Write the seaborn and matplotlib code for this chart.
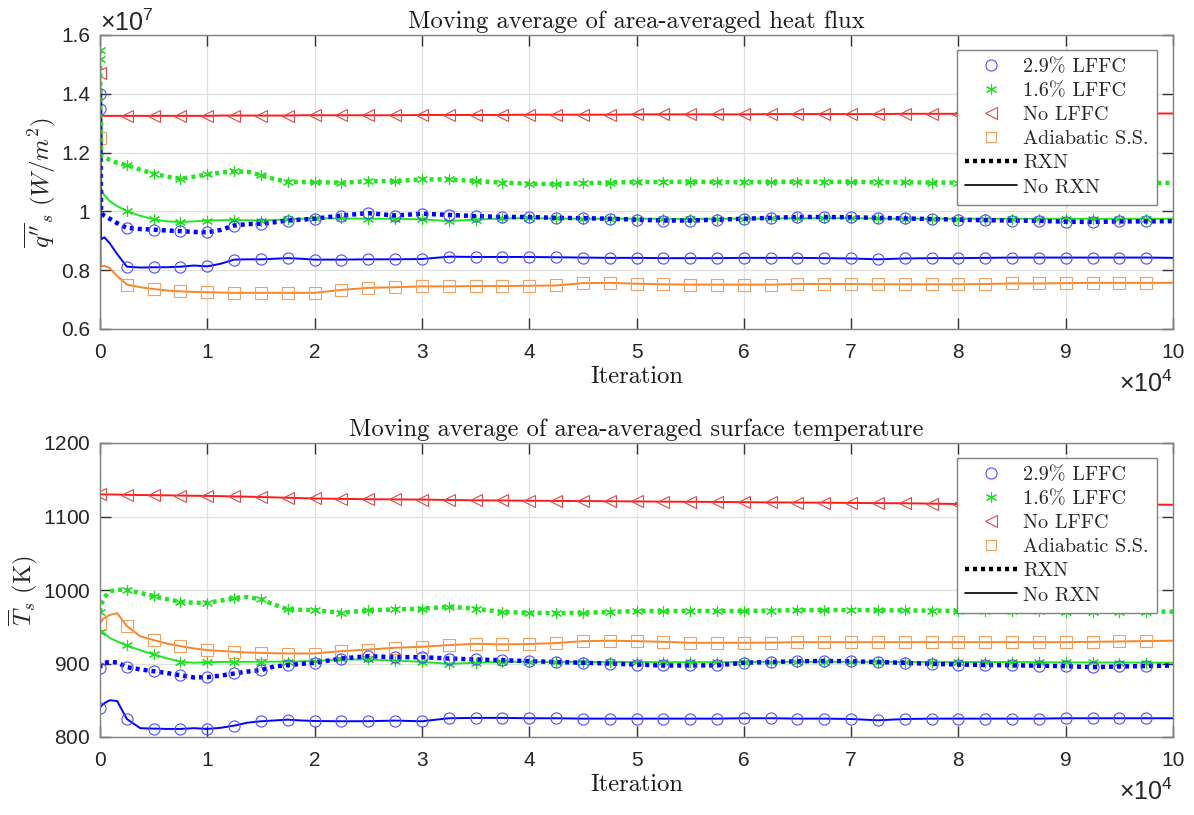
import matplotlib
matplotlib.use("Agg")
import matplotlib.pyplot as plt
import seaborn as sns
import pandas as pd
from matplotlib.lines import Line2D
from matplotlib.ticker import ScalarFormatter

# ---------------- data ----------------
ITER = [0, 100, 400, 900, 1600, 2500, 3750, 5000, 6250, 7500, 8750, 10000, 11250,
        12500, 13750, 15000, 16250, 17500, 18750, 20000, 22500, 25000, 27500, 30000,
        32500, 35000, 37500, 40000, 42500, 45000, 47500, 50000, 52500, 55000, 57500,
        60000, 62500, 65000, 67500, 70000, 72500, 75000, 77500, 80000, 82500, 85000,
        87500, 90000, 92500, 95000, 97500, 100000]

# heat flux, in units of 1e7 W/m^2
Q_B29_RXN = [1.40, 0.995, 0.985, 0.975, 0.960, 0.944, 0.940, 0.938, 0.935, 0.933, 0.930, 0.929, 0.937,
             0.952, 0.957, 0.958, 0.963, 0.969, 0.972, 0.975, 0.986, 0.994, 0.986, 0.992,
             0.988, 0.984, 0.981, 0.981, 0.978, 0.977, 0.975, 0.972, 0.969, 0.969, 0.972,
             0.975, 0.978, 0.981, 0.981, 0.980, 0.978, 0.976, 0.974, 0.972, 0.970, 0.969,
             0.968, 0.965, 0.964, 0.966, 0.966, 0.967]
Q_B29_NORXN = [1.35, 0.905, 0.912, 0.892, 0.855, 0.812, 0.809, 0.810, 0.810, 0.812, 0.816, 0.813, 0.822,
               0.836, 0.837, 0.837, 0.839, 0.841, 0.839, 0.836, 0.836, 0.837, 0.837, 0.838,
               0.846, 0.845, 0.845, 0.845, 0.844, 0.843, 0.842, 0.842, 0.841, 0.841, 0.841,
               0.842, 0.842, 0.842, 0.841, 0.840, 0.837, 0.840, 0.841, 0.841, 0.842, 0.843,
               0.843, 0.843, 0.843, 0.843, 0.843, 0.842]
Q_G16_RXN = [1.55, 1.19, 1.185, 1.175, 1.165, 1.157, 1.142, 1.128, 1.118, 1.111, 1.118, 1.126, 1.132,
             1.136, 1.135, 1.123, 1.110, 1.101, 1.100, 1.100, 1.097, 1.103, 1.103, 1.109,
             1.109, 1.103, 1.098, 1.094, 1.093, 1.096, 1.098, 1.100, 1.100, 1.101, 1.100,
             1.099, 1.100, 1.101, 1.100, 1.101, 1.099, 1.099, 1.098, 1.098, 1.099, 1.098,
             1.098, 1.097, 1.097, 1.097, 1.097, 1.097]
Q_G16_NORXN = [1.52, 1.075, 1.055, 1.035, 1.018, 1.001, 0.985, 0.973, 0.966, 0.964, 0.966, 0.969, 0.970,
               0.971, 0.970, 0.969, 0.971, 0.973, 0.975, 0.977, 0.976, 0.975, 0.975, 0.973,
               0.967, 0.972, 0.976, 0.977, 0.976, 0.975, 0.975, 0.975, 0.975, 0.974, 0.975,
               0.975, 0.976, 0.977, 0.977, 0.977, 0.976, 0.975, 0.975, 0.975, 0.975, 0.975,
               0.975, 0.975, 0.975, 0.975, 0.975, 0.975]
Q_NOLFFC = [1.47, 1.326, 1.325, 1.325, 1.325, 1.325, 1.325, 1.325, 1.325, 1.325, 1.325, 1.325, 1.326,
            1.326, 1.326, 1.326, 1.326, 1.326, 1.327, 1.327, 1.327, 1.327, 1.327, 1.328,
            1.328, 1.328, 1.328, 1.329, 1.329, 1.329, 1.329, 1.330, 1.330, 1.330, 1.330,
            1.330, 1.331, 1.331, 1.331, 1.331, 1.331, 1.332, 1.332, 1.332, 1.332, 1.332,
            1.333, 1.333, 1.333, 1.333, 1.333, 1.333]
Q_ADIAB = [1.25, 0.812, 0.815, 0.808, 0.780, 0.751, 0.742, 0.736, 0.731, 0.728, 0.726, 0.725, 0.724,
           0.723, 0.723, 0.723, 0.723, 0.723, 0.723, 0.723, 0.733, 0.740, 0.742, 0.745,
           0.745, 0.746, 0.746, 0.747, 0.748, 0.756, 0.757, 0.754, 0.752, 0.751, 0.751,
           0.751, 0.751, 0.753, 0.753, 0.753, 0.752, 0.752, 0.752, 0.752, 0.753, 0.755,
           0.755, 0.756, 0.757, 0.757, 0.757, 0.757]
Q_UNIT = 1e7

# surface temperature, K
T_B29_RXN = [894, 899, 901, 902, 901.5, 895, 892, 889.5, 887, 884, 881, 881.4, 883.5,
             886.4, 889, 891, 896, 897.7, 899.5, 901, 906.8, 910, 908.6, 908.6,
             906.8, 905.5, 904.5, 903.2, 902, 901, 900, 898.6, 897.3, 897.3, 897.5,
             901, 902, 903, 903.5, 903, 902, 901, 899.5, 898.6, 898, 897.5,
             897, 896.4, 895, 896, 896.5, 897.3]
T_B29_NORXN = [840, 842, 846, 850, 849, 824.5, 812, 811.4, 811, 811, 812, 811, 812.5,
               815.5, 819.5, 821.4, 822.5, 823.6, 822.5, 821.8, 821.4, 821.5, 822.3, 821.4,
               825.5, 826, 826, 825.5, 825.5, 825, 825, 825, 825, 825, 825,
               825.5, 825.5, 825, 825, 824.5, 822.7, 824.5, 825, 825, 825, 825,
               825, 825.5, 825.5, 825.5, 825.5, 825.5]
T_G16_RXN = [970, 980, 990, 998, 1000.5, 1000, 996, 991.8, 987.5, 984, 982.5, 982.7, 985.5,
             988.6, 990.5, 987.3, 980, 973.6, 973, 972.7, 969, 972.3, 973.6, 974.5,
             977.3, 974.5, 970, 969, 968.5, 969, 970, 971.4, 971.5, 971.5, 971.5,
             971.5, 972, 972.5, 972.7, 972.7, 972.5, 972.2, 972, 971.5, 971, 971,
             970.8, 970.5, 970.5, 970.5, 970.5, 970.5]
T_G16_NORXN = [942.7, 943, 941, 935, 930, 924.5, 918, 912.3, 907, 902.3, 901, 901.8, 902,
               902.3, 902.3, 902.3, 902.5, 902.5, 903, 903.2, 905.5, 905.5, 904, 902.3,
               899.5, 901, 902.3, 902.3, 902.2, 902, 902, 902, 901.8, 901.8, 901.8,
               902, 902.2, 902.3, 902.3, 902.3, 902.2, 902, 902, 902, 902, 902,
               901.8, 901.5, 901.5, 901.3, 901.2, 901]
T_NOLFFC = [1130, 1130, 1130, 1130, 1129.8, 1129.5, 1129.2, 1129, 1128.8, 1128.5, 1128.2, 1128, 1127.7,
            1127.3, 1127, 1126.5, 1126, 1125.5, 1125, 1124.5, 1124, 1123.5, 1123.3, 1123,
            1122.5, 1122, 1121.8, 1121.5, 1121.2, 1121, 1120.8, 1120.5, 1120.2, 1120, 1119.8,
            1119.5, 1119.2, 1119, 1118.8, 1118.5, 1118.2, 1118, 1117.5, 1117, 1116.8, 1116.6,
            1116.5, 1116.4, 1116.3, 1116.2, 1116.1, 1116]
T_ADIAB = [954, 957, 962, 966, 968.5, 951, 937, 931.8, 927, 923.6, 920.5, 918.2, 917,
           916, 915, 914.5, 914, 913.6, 913.6, 913.6, 916.8, 919, 921.4, 922.7,
           925, 926.8, 926, 926.5, 927.8, 930.4, 931, 930.4, 929.5, 928.2, 928.2,
           928.2, 928.5, 929, 929, 929, 929, 929, 929, 929, 929, 929,
           929, 929, 929.5, 930, 930.5, 931]

LEGEND_LABELS = ["2.9% LFFC", "1.6% LFFC", "No LFFC", "Adiabatic S.S.", "RXN", "No RXN"]
TITLES = ["Moving average of area-averaged heat flux",
          "Moving average of area-averaged surface temperature"]

# ---------------- style ----------------
sns.set_theme(style="ticks")
plt.rcParams["font.family"] = ["Liberation Sans", "DejaVu Sans"]
plt.rcParams["mathtext.fontset"] = "custom"
plt.rcParams["mathtext.rm"] = "Liberation Sans"
plt.rcParams["mathtext.it"] = "Liberation Sans:italic"
plt.rcParams["axes.formatter.use_mathtext"] = True

SERIF = "cmr10"
BLUE, BLUE_M = "#0000ff", "#4d4dff"
GREEN, GREEN_M = "#22e622", "#22dd22"
RED, RED_M = "#ff1a1a", "#e04848"
ORANGE, ORANGE_M = "#f5872a", "#f0a060"
AXC = "#808080"
DOT = (0, (0.9, 0.9))
STAR = (6, 2, 0)

# marker positions: every 2500 iterations, up to 97500
MARK_IDX = [i for i, v in enumerate(ITER) if v % 2500 == 0 and v < 100000]


class TrimFormatter(ScalarFormatter):
    """MATLAB-like tick labels: '1' rather than '1.0'."""
    def __call__(self, x, pos=None):
        v = x / 10 ** self.orderOfMagnitude
        return f"{round(v, 6):g}"


fig = plt.figure(figsize=(11.94, 8.15), dpi=100)
ax1 = fig.add_axes([100 / 1194, 1 - 329 / 815, 1073 / 1194, 294 / 815])
ax2 = fig.add_axes([100 / 1194, 1 - 737 / 815, 1073 / 1194, 294 / 815])


def draw(ax, series, scale):
    for vals, col, mcol, mk, ls, lw in series:
        df = pd.DataFrame({"it": ITER, "v": [v * scale for v in vals]})
        sns.lineplot(data=df, x="it", y="v", ax=ax, estimator=None, sort=False,
                     color=col, linestyle=ls, linewidth=lw, marker=mk, markersize=8,
                     markerfacecolor="none", markeredgecolor=mcol, markeredgewidth=0.8,
                     markevery=MARK_IDX)


draw(ax1, [
    (Q_NOLFFC, RED, RED_M, "<", "-", 1.4),
    (Q_ADIAB, ORANGE, ORANGE_M, "s", "-", 1.4),
    (Q_G16_NORXN, GREEN, GREEN_M, STAR, "-", 1.4),
    (Q_G16_RXN, GREEN, GREEN_M, STAR, DOT, 3.2),
    (Q_B29_NORXN, BLUE, BLUE_M, "o", "-", 1.4),
    (Q_B29_RXN, BLUE, BLUE_M, "o", DOT, 3.2),
], Q_UNIT)
draw(ax2, [
    (T_NOLFFC, RED, RED_M, "<", "-", 1.4),
    (T_ADIAB, ORANGE, ORANGE_M, "s", "-", 1.4),
    (T_G16_NORXN, GREEN, GREEN_M, STAR, "-", 1.4),
    (T_G16_RXN, GREEN, GREEN_M, STAR, DOT, 3.2),
    (T_B29_NORXN, BLUE, BLUE_M, "o", "-", 1.4),
    (T_B29_RXN, BLUE, BLUE_M, "o", DOT, 3.2),
], 1.0)

ax1.set_ylim(0.6e7, 1.6e7)
ax1.set_yticks([0.6e7, 0.8e7, 1.0e7, 1.2e7, 1.4e7, 1.6e7])
ax1.yaxis.set_major_formatter(TrimFormatter(useMathText=True))
ax1.ticklabel_format(axis="y", style="sci", scilimits=(7, 7))
ax2.set_ylim(800, 1200)
ax2.set_yticks([800, 900, 1000, 1100, 1200])

for ax, title in zip([ax1, ax2], TITLES):
    ax.set_xlim(0, 100000)
    ax.set_xticks(range(0, 100001, 10000))
    ax.xaxis.set_major_formatter(TrimFormatter(useMathText=True))
    ax.ticklabel_format(axis="x", style="sci", scilimits=(4, 4))
    ax.xaxis.OFFSETTEXTPAD = 6
    ax.grid(True, color="#e0e0e0", linewidth=0.9)
    ax.set_axisbelow(True)
    for s in ax.spines.values():
        s.set_color(AXC)
        s.set_linewidth(1.0)
    ax.tick_params(direction="in", length=8, width=1.0, color="#333333",
                   top=True, right=True, labelsize=15, labelcolor="#262626")
    ax.tick_params(axis="x", pad=10)
    ax.tick_params(axis="y", pad=7)
    ax.xaxis.get_offset_text().set_fontsize(18)
    ax.yaxis.get_offset_text().set_fontsize(18)
    ax.set_title(title, fontfamily=SERIF, fontsize=17.7, pad=5, color="#1a1a1a")
    ax.set_xlabel("Iteration", fontfamily=SERIF, fontsize=17.7, labelpad=3, color="#1a1a1a")

    handles = [
        Line2D([], [], linestyle="none", marker="o", markersize=8, mfc="none", mec=BLUE_M, mew=0.8),
        Line2D([], [], linestyle="none", marker=STAR, markersize=8, mfc="none", mec=GREEN_M, mew=0.8),
        Line2D([], [], linestyle="none", marker="<", markersize=8, mfc="none", mec=RED_M, mew=0.8),
        Line2D([], [], linestyle="none", marker="s", markersize=7, mfc="none", mec=ORANGE_M, mew=0.8),
        Line2D([], [], color="black", linestyle=DOT, linewidth=3.2),
        Line2D([], [], color="black", linestyle="-", linewidth=1.2),
    ]
    leg = ax.legend(handles, LEGEND_LABELS, loc="upper right", bbox_to_anchor=(0.985, 0.95),
                    prop={"family": SERIF, "size": 14.5}, frameon=True, fancybox=False,
                    framealpha=1, edgecolor=AXC, handlelength=2.6, handletextpad=0.3,
                    labelspacing=0.3, borderpad=0.4, borderaxespad=0)
    leg.get_frame().set_linewidth(1.0)

ax1.set_ylabel(r"$\overline{q''}_s\ (W/m^2)$", fontsize=18, math_fontfamily="cm", labelpad=2)
ax2.set_ylabel(r"$\overline{T}_s\ (\mathrm{K})$", fontsize=18, math_fontfamily="cm", labelpad=2)

fig.savefig("out.png", dpi=100)
